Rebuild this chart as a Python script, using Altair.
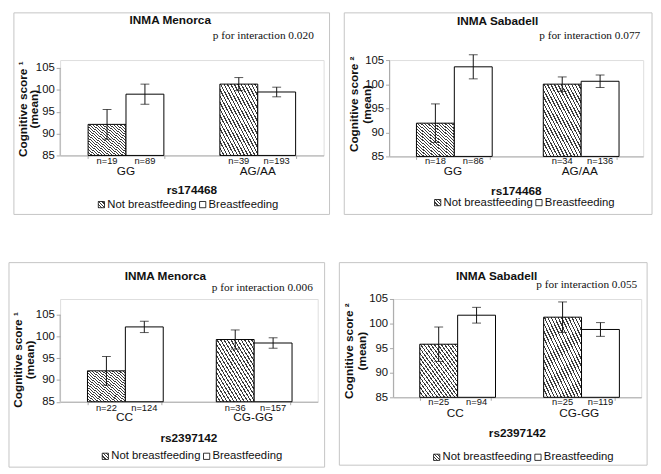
import altair as alt
import pandas as pd

# ---------------- data ----------------
panel_titles = ["INMA Menorca", "INMA Sabadell", "INMA Menorca", "INMA Sabadell"]
p_interaction = ["0.020", "0.077", "0.006", "0.055"]
snp_names = ["rs174468", "rs174468", "rs2397142", "rs2397142"]
score_marks = ["\u00b9", "\u00b2", "\u00b9", "\u00b2"]
genotypes = [["GG", "AG/AA"], ["GG", "AG/AA"], ["CC", "CG-GG"], ["CC", "CG-GG"]]
groups = ["Not breastfeeding", "Breastfeeding"]

mean_not_bf = [[92.1, 101.3], [91.9, 100.0], [92.1, 99.3], [95.8, 101.3]]
mean_bf = [[99.0, 99.5], [103.6, 100.6], [102.2, 98.5], [101.7, 98.8]]
err_not_bf = [[3.4, 1.5], [4.0, 1.5], [3.3, 2.2], [3.5, 3.1]]
err_bf = [[2.3, 1.1], [2.5, 1.3], [1.3, 1.2], [1.6, 1.4]]
n_not_bf = [[19, 39], [18, 34], [22, 36], [25, 25]]
n_bf = [[89, 193], [86, 136], [124, 157], [94, 119]]

y_ticks = [85, 90, 95, 100, 105]
y_min, y_max = 85, 105

# ---------------- layout (page pixel coordinates) ----------------
geoms = [
    dict(pl=55, W=268, y105=64, y85=153, top=56, box=(8, 8, 329, 213), title=(167, 15), p=(313, 32),
         n_dy=5.5, cat_dy=15.5, snp_dy=35, leg=(94, 203), ytitle=(17, 29, 106)),
    dict(pl=388, W=258, y105=56, y85=154, top=56, box=(342, 8, 655, 213), title=(498, 16), p=(643, 32),
         n_dy=4.5, cat_dy=14.5, snp_dy=35, leg=(434, 201), ytitle=(352, 365, 101)),
    dict(pl=60, W=262, y105=314, y85=402.5, top=298, box=(8, 261, 329, 469), title=(167, 275), p=(317, 287),
         n_dy=6, cat_dy=15.5, snp_dy=37, leg=(103, 458), ytitle=(17, 29, 360)),
    dict(pl=397, W=252, y105=298, y85=398, top=298, box=(342, 261, 655, 467), title=(502, 275), p=(645, 284),
         n_dy=4.5, cat_dy=16, snp_dy=36, leg=(438, 459), ytitle=(352, 365, 351)),
]

SANS = "Liberation Sans"
SERIF = "Liberation Serif"
AXIS_GRAY = "#a8a8a8"
INK = "#111111"


def hatch(n, dark="#3c3c3c", frac=0.36):
    stops = []
    for k in range(n):
        a = k / n
        b = (k + frac) / n
        stops += [alt.GradientStop(color=dark, offset=a), alt.GradientStop(color=dark, offset=b),
                  alt.GradientStop(color="white", offset=b), alt.GradientStop(color="white", offset=(k + 1) / n)]
    return alt.LinearGradient(gradient="linear", stops=stops, x1=0, y1=1, x2=1, y2=0)


bar_hatch = hatch(22)
leg_hatch = hatch(4)
one = pd.DataFrame({"k": [0]})


def panel(i):
    g = geoms[i]
    W, pl, pt = g["W"], g["pl"], g["top"]
    H = g["y85"] - pt
    px_per_unit = (g["y85"] - g["y105"]) / (y_max - y_min)
    dom_top = y_max + (g["y105"] - pt) / px_per_unit

    rows = []
    for j, gt in enumerate(genotypes[i]):
        rows.append(dict(genotype=gt, group=groups[0], mean=mean_not_bf[i][j],
                         lo=mean_not_bf[i][j] - err_not_bf[i][j], hi=mean_not_bf[i][j] + err_not_bf[i][j],
                         n=f"n={n_not_bf[i][j]}"))
        rows.append(dict(genotype=gt, group=groups[1], mean=mean_bf[i][j],
                         lo=mean_bf[i][j] - err_bf[i][j], hi=mean_bf[i][j] + err_bf[i][j],
                         n=f"n={n_bf[i][j]}"))
    df = pd.DataFrame(rows)

    xaxis = alt.Axis(title=None, labels=False, tickBand="extent", tickSize=3, domainColor=AXIS_GRAY,
                     tickColor=AXIS_GRAY, grid=False)
    yaxis = alt.Axis(title=None, values=y_ticks, tickSize=4, domain=False, tickColor=AXIS_GRAY, grid=False,
                     labelFont=SANS, labelFontSize=11.5, labelColor=INK, labelPadding=2)
    xs = alt.Scale(domain=genotypes[i], paddingInner=0.425, paddingOuter=0.2125)
    ys = alt.Scale(domain=[y_min, dom_top], nice=False, zero=False)

    def X():
        return alt.X("genotype:N", scale=xs, axis=xaxis, sort=genotypes[i])

    def XO():
        return alt.XOffset("group:N", scale=alt.Scale(domain=groups, paddingInner=0, paddingOuter=0))

    def Y(field):
        return alt.Y(f"{field}:Q", scale=ys, axis=yaxis)

    base = alt.Chart(df)
    bx0, by0, bx1, by1 = g["box"]
    box = alt.Chart(one).mark_rect(fillOpacity=0, stroke="#c4c4c4", strokeWidth=1).encode(
        x=alt.value(bx0 - pl), x2=alt.value(bx1 - pl), y=alt.value(by0 - pt), y2=alt.value(by1 - pt))

    ydom = alt.Chart(one).mark_rule(color=AXIS_GRAY, strokeWidth=1).encode(
        x=alt.value(0), y=alt.Y(datum=y_min, scale=ys, axis=yaxis), y2=alt.Y2(datum=y_max))

    b_nbf = base.transform_filter(alt.datum.group == groups[0]).mark_bar(
        fill=bar_hatch, stroke="black", strokeWidth=1).encode(x=X(), xOffset=XO(), y=Y("mean"),
                                                               y2=alt.Y2(datum=y_min))
    b_bf = base.transform_filter(alt.datum.group == groups[1]).mark_bar(
        fill="white", stroke="black", strokeWidth=1).encode(x=X(), xOffset=XO(), y=Y("mean"),
                                                            y2=alt.Y2(datum=y_min))
    rule = base.mark_rule(color=INK, strokeWidth=1).encode(x=X(), xOffset=XO(), y=Y("lo"), y2="hi:Q")
    cap_lo = base.mark_tick(orient="horizontal", size=9, thickness=1, color=INK).encode(
        x=X(), xOffset=XO(), y=Y("lo"))
    cap_hi = base.mark_tick(orient="horizontal", size=9, thickness=1, color=INK).encode(
        x=X(), xOffset=XO(), y=Y("hi"))
    nlab = base.mark_text(font=SANS, fontSize=9.5, color=INK, baseline="middle").encode(
        x=X(), xOffset=XO(), y=alt.value(H + g["n_dy"]), text="n:N")
    cat = base.transform_filter(alt.datum.group == groups[0]).mark_text(
        font=SANS, fontSize=12, color=INK, baseline="middle").encode(
        x=X(), y=alt.value(H + g["cat_dy"]), text="genotype:N")

    title = alt.Chart(one).mark_text(font=SANS, fontSize=12, fontWeight="bold", color=INK,
                                     baseline="middle", align="center", text=panel_titles[i]).encode(
        x=alt.value(g["title"][0] - pl), y=alt.value(g["title"][1] - pt))
    ptxt = alt.Chart(one).mark_text(font=SERIF, fontSize=11.5, color=INK, baseline="middle", align="right",
                                    text="p for interaction " + p_interaction[i]).encode(
        x=alt.value(g["p"][0] - pl), y=alt.value(g["p"][1] - pt))
    snp = alt.Chart(one).mark_text(font=SANS, fontSize=12, fontWeight="bold", color=INK, baseline="middle",
                                   align="center", text=snp_names[i]).encode(
        x=alt.value(W / 2), y=alt.value(H + g["snp_dy"]))

    yx1, yx2, yyc = g["ytitle"]
    yt1 = alt.Chart(one).mark_text(font=SANS, fontSize=12, fontWeight="bold", color=INK, angle=270,
                                   baseline="middle", align="center",
                                   text="Cognitive score " + score_marks[i]).encode(
        x=alt.value(yx1 - pl), y=alt.value(yyc - pt))
    yt2 = alt.Chart(one).mark_text(font=SANS, fontSize=12, fontWeight="bold", color=INK, angle=270,
                                   baseline="middle", align="center", text="(mean)").encode(
        x=alt.value(yx2 - pl), y=alt.value(yyc - pt))

    lx, ly = g["leg"][0] - pl, g["leg"][1] - pt
    sq1 = alt.Chart(one).mark_square(size=40, fill=leg_hatch, stroke="black", strokeWidth=0.8, opacity=1).encode(
        x=alt.value(lx + 3), y=alt.value(ly))
    t1 = alt.Chart(one).mark_text(font=SANS, fontSize=11.5, color=INK, baseline="middle", align="left",
                                  text=groups[0]).encode(x=alt.value(lx + 9), y=alt.value(ly))
    sq2 = alt.Chart(one).mark_square(size=40, fill="white", stroke="black", strokeWidth=0.8, opacity=1).encode(
        x=alt.value(lx + 106), y=alt.value(ly))
    t2 = alt.Chart(one).mark_text(font=SANS, fontSize=11.5, color=INK, baseline="middle", align="left",
                                  text=groups[1]).encode(x=alt.value(lx + 112), y=alt.value(ly))

    return alt.layer(box, ydom, b_nbf, b_bf, rule, cap_lo, cap_hi, nlab, cat, title, ptxt, snp,
                     yt1, yt2, sq1, t1, sq2, t2).properties(width=W, height=H)


row1 = alt.hconcat(panel(0), panel(1), spacing=13)
row2 = alt.hconcat(panel(2), panel(3), spacing=13)
chart = alt.vconcat(row1, row2, spacing=47, padding=0).configure_view(stroke=None).configure(
    font=SANS, background="white")

chart.save("out.html", embed_options={"renderer": "svg", "actions": False})
